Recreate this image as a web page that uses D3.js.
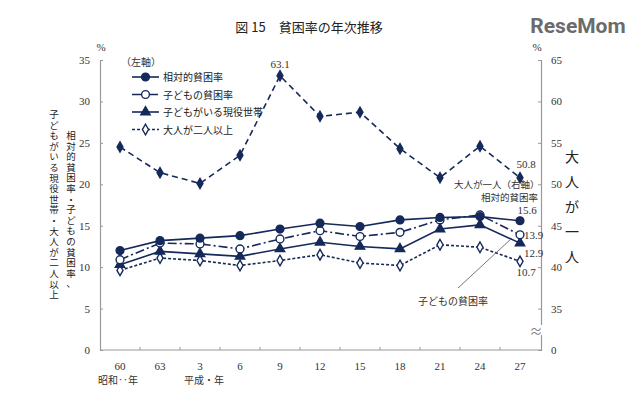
<!DOCTYPE html>
<html>
<head>
<meta charset="utf-8">
<script src="https://cdn.jsdelivr.net/npm/d3@7"></script>
<style>
  body { margin: 0; background: #fff; }
  svg text { font-family: "Noto Sans CJK JP", sans-serif; fill: #333; }
  .num { font-family: "Liberation Serif", "DejaVu Serif", serif; }
</style>
</head>
<body>
<svg id="chart" width="640" height="400"></svg>
<script>
// data (values in %)
var years = ["60", "63", "3", "6", "9", "12", "15", "18", "21", "24", "27"];
var relPoverty   = [12.0, 13.2, 13.5, 13.8, 14.6, 15.3, 14.9, 15.7, 16.0, 16.1, 15.6];
var childPoverty = [10.9, 12.9, 12.8, 12.2, 13.4, 14.4, 13.7, 14.2, 15.7, 16.3, 13.9];
var withChildren = [10.3, 11.9, 11.6, 11.3, 12.2, 13.0, 12.5, 12.2, 14.6, 15.1, 12.9];
var twoAdults    = [9.6, 11.1, 10.8, 10.2, 10.8, 11.5, 10.5, 10.2, 12.7, 12.4, 10.7];
var oneAdult     = [54.5, 51.4, 50.1, 53.5, 63.1, 58.2, 58.7, 54.3, 50.8, 54.6, 50.8];
var leftTicks = [0, 5, 10, 15, 20, 25, 30, 35];
var rightTicks = [30, 35, 40, 45, 50, 55, 60, 65];

var navy = "#15295a";
var svg = d3.select("#chart");

var x = d3.scaleBand().domain(years).range([100, 540]);
var yL = d3.scaleLinear().domain([0, 35]).range([350, 60]);
var yR = d3.scaleLinear().domain([30, 65]).range([350, 60]);
var cx = function(d, i){ return x(years[i]) + x.bandwidth() / 2; };

// title + logo
svg.append("text").attr("x", 309).attr("y", 32).attr("text-anchor", "middle")
  .style("font-size", "13px").style("fill", "#222").text("図 15　貧困率の年次推移");
svg.append("text").attr("x", 578).attr("y", 33).attr("text-anchor", "middle")
  .style("font-family", "Roboto, sans-serif").style("font-weight", "bold")
  .style("font-size", "21px").style("fill", "#6b6b6b").text("ReseMom");

// axes
var axL = svg.append("g").attr("transform", "translate(100,0)")
  .call(d3.axisLeft(yL).tickValues(leftTicks).tickSize(-3).tickPadding(10));
var axR = svg.append("g").attr("transform", "translate(541,0)")
  .call(d3.axisRight(yR).tickValues(rightTicks).tickSize(-3).tickPadding(10)
    .tickFormat(function(d){ return d === 30 ? "0" : d; }));
var axB = svg.append("g").attr("transform", "translate(0,350)")
  .call(d3.axisBottom(x).tickSize(0).tickPadding(12));
[axL, axR, axB].forEach(function(a){
  a.selectAll(".domain").attr("stroke", "#999").attr("stroke-width", 1.2);
  a.selectAll(".tick line").attr("stroke", "#999");
  a.selectAll("text").attr("class", "num").style("font-size", "11px").style("fill", "#333");
});
axB.select(".domain").attr("d", "M100,0H541");
// tick marks on bottom axis between categories
svg.append("g").selectAll("line").data(years.slice(1)).enter().append("line")
  .attr("x1", function(d){ return x(d); }).attr("x2", function(d){ return x(d); })
  .attr("y1", 350).attr("y2", 347).attr("stroke", "#999");

// axis break mark on right axis
svg.append("rect").attr("x", 535).attr("y", 325).attr("width", 12).attr("height", 10).attr("fill", "#fff");
svg.append("text").attr("x", 536).attr("y", 336).attr("text-anchor", "middle")
  .style("font-size", "13px").style("fill", "#888").text("≈");

svg.append("text").attr("class", "num").attr("x", 101).attr("y", 51).attr("text-anchor", "middle")
  .style("font-size", "11px").text("%");
svg.append("text").attr("class", "num").attr("x", 537).attr("y", 51).attr("text-anchor", "middle")
  .style("font-size", "11px").text("%");

svg.append("text").attr("x", 98).attr("y", 384).style("font-size", "10px").text("昭和‥年");
svg.append("text").attr("x", 184).attr("y", 384).style("font-size", "10px").text("平成・年");

// vertical axis titles, one character per text
function vtext(str, px, py0, step, size){
  svg.append("g").selectAll("text").data(str.split("")).enter().append("text")
    .attr("x", px).attr("y", function(d, i){ return py0 + i * step; })
    .attr("text-anchor", "middle").style("font-size", size + "px").style("fill", "#222")
    .text(function(d){ return d; });
}
vtext("相対的貧困率・子どもの貧困率、", 71, 139, 10.6, 9.5);
vtext("子どもがいる現役世帯・大人が二人以上", 54, 118, 10.6, 9.5);
vtext("大人が一人", 572, 162, 25, 14);

// series
var series = [
  {name: "大人が一人", vals: oneAdult, y: yR, dash: "6,4", marker: "diamond", fill: navy, size: 30},
  {name: "大人が二人以上", vals: twoAdults, y: yL, dash: "3,2", marker: "diamond", fill: "#fff", size: 32},
  {name: "子どもがいる現役世帯", vals: withChildren, y: yL, dash: null, marker: "triangle", fill: navy, size: 38},
  {name: "子どもの貧困率", vals: childPoverty, y: yL, dash: "9,3,2,3", marker: "circle", fill: "#fff", size: 48},
  {name: "相対的貧困率", vals: relPoverty, y: yL, dash: null, marker: "circle", fill: navy, size: 48}
];
var symbols = {circle: d3.symbolCircle, triangle: d3.symbolTriangle, diamond: d3.symbolDiamond};

series.forEach(function(s){
  var line = d3.line().x(cx).y(function(d){ return s.y(d); });
  svg.append("path").datum(s.vals).attr("d", line).attr("fill", "none")
    .attr("stroke", navy).attr("stroke-width", 1.6)
    .attr("stroke-dasharray", s.dash);
  svg.append("g").selectAll("path").data(s.vals).enter().append("path")
    .attr("transform", function(d, i){ return "translate(" + cx(d, i) + "," + s.y(d) + ")"; })
    .attr("d", d3.symbol().type(symbols[s.marker]).size(s.size))
    .attr("fill", s.fill).attr("stroke", navy).attr("stroke-width", 1.4);
});

// legend
var legendItems = [series[4], series[3], series[2], series[1]];
svg.append("text").attr("x", 121).attr("y", 66).style("font-size", "10px").text("（左軸）");
var lg = svg.append("g").selectAll("g").data(legendItems).enter().append("g")
  .attr("transform", function(d, i){ return "translate(132," + (77 + i * 17.5) + ")"; });
lg.append("line").attr("x1", 0).attr("x2", 27).attr("stroke", navy).attr("stroke-width", 1.6)
  .attr("stroke-dasharray", function(d){ return d.dash; });
lg.append("path").attr("transform", "translate(13.5,0)")
  .attr("d", function(d){ return d3.symbol().type(symbols[d.marker]).size(d.size)(); })
  .attr("fill", function(d){ return d.fill; }).attr("stroke", navy).attr("stroke-width", 1.4);
lg.append("text").attr("x", 31).attr("y", 4).style("font-size", "10px").style("fill", "#222")
  .text(function(d){ return d.name; });

// annotations
var last = years.length - 1;
svg.append("text").attr("class", "num").attr("x", cx(0, 4)).attr("y", yR(oneAdult[4]) - 8)
  .attr("text-anchor", "middle").style("font-size", "11px").text("63.1");
svg.append("text").attr("x", 454).attr("y", 188).style("font-size", "9.5px").text("大人が一人（右軸）");
svg.append("text").attr("class", "num").attr("x", cx(0, last) + 6).attr("y", yR(oneAdult[last]) - 10)
  .attr("text-anchor", "middle").style("font-size", "11px").text("50.8");
svg.append("text").attr("x", 481).attr("y", 201).style("font-size", "9.5px").text("相対的貧困率");
svg.append("text").attr("class", "num").attr("x", cx(0, last) + 7).attr("y", yL(relPoverty[last]) - 7)
  .attr("text-anchor", "middle").style("font-size", "11px").text("15.6");
svg.append("text").attr("class", "num").attr("x", cx(0, last) + 4).attr("y", yL(childPoverty[last]) + 4)
  .style("font-size", "11px").text("13.9");
svg.append("text").attr("class", "num").attr("x", cx(0, last) + 4).attr("y", yL(withChildren[last]) + 14)
  .style("font-size", "11px").text("12.9");
svg.append("text").attr("class", "num").attr("x", cx(0, last) + 6).attr("y", yL(twoAdults[last]) + 15)
  .attr("text-anchor", "middle").style("font-size", "11px").text("10.7");
svg.append("line").attr("x1", 458).attr("y1", 288).attr("x2", 512).attr("y2", 238)
  .attr("stroke", "#555").attr("stroke-width", 0.8);
svg.append("text").attr("x", 418).attr("y", 305).style("font-size", "10px").text("子どもの貧困率");
</script>
</body>
</html>
